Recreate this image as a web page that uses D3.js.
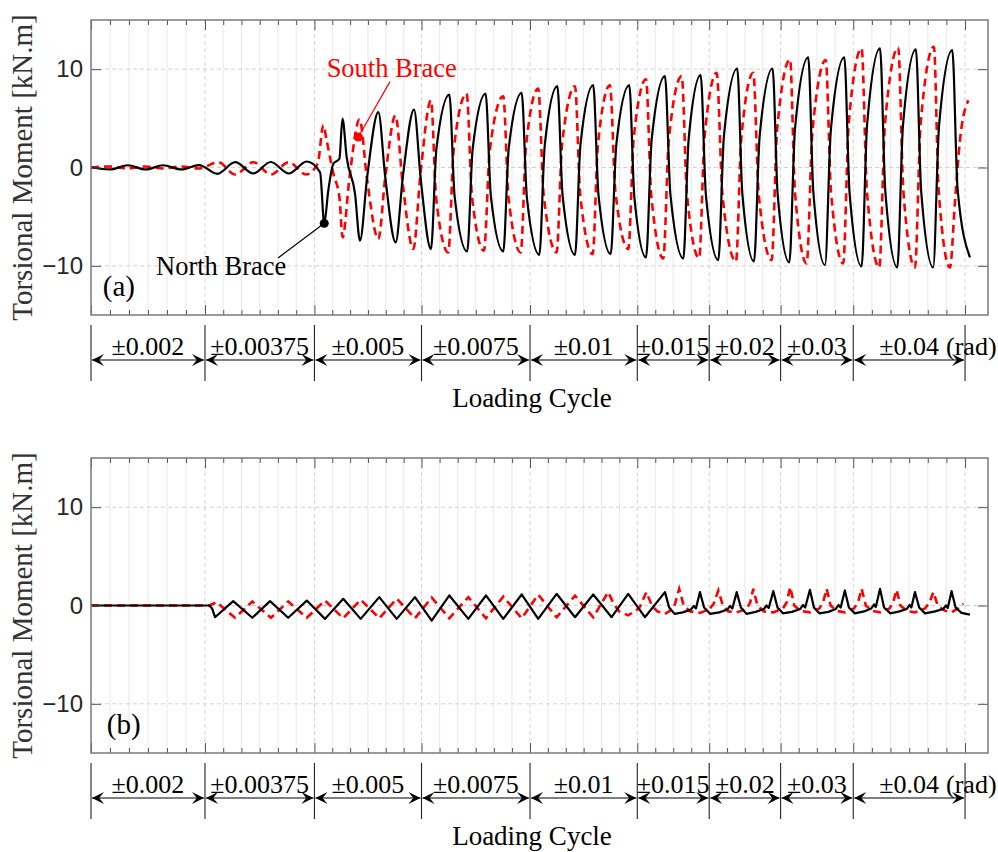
<!DOCTYPE html>
<html>
<head>
<meta charset="utf-8">
<script src="https://d3js.org/d3.v7.min.js"></script>
<style>
  body { margin: 0; background: #fff; }
  svg { display: block; }
  .ticklabel { font-family: "Liberation Sans", Arial, sans-serif; font-size: 24px; fill: #262626; }
  .serif { font-family: "Liberation Serif", "Times New Roman", serif; }
</style>
</head>
<body>
<svg id="chart" width="998" height="852"></svg>
<script>
// loading protocol sections, x in loading-cycle units
var sectionEdges = [0, 6.26, 12.27, 18.15, 24.11, 30, 33.95, 37.87, 41.86, 48];
var sectionSteps = [6, 6, 6, 6, 6, 4, 4, 4, 6];
var sectionLabels = ["\u00b10.002", "\u00b10.00375", "\u00b10.005", "\u00b10.0075", "\u00b10.01",
                     "\u00b10.015", "\u00b10.02", "\u00b10.03", "\u00b10.04"];
var yTicks = [-10, 0, 10];

// (a) north brace, [cycle, kN.m]
var northA = [[0,0],[1.04,-0.2],[2.02,0.23],[3.0,-0.2],[3.95,0.23],[4.98,-0.2],[5.93,0.25],
  [6.94,-0.64],[7.92,0.54],[8.91,-0.61],[9.87,0.56],[10.86,-0.61],[11.85,0.61],[12.58,-0.48],[12.81,-5.68],
  [13.03,-2.35],[13.31,0.38],[13.64,0.89],[13.81,4.97],[14.04,1.05],[14.5,-2.68],[14.77,-7.45],
  [15.17,-0.9],[15.78,5.64],[16.16,-0.99],[16.73,-7.62],[17.13,-0.87],[17.74,5.89],[18.11,-1.21],[18.67,-8.3],
  [18.97,1.92],[19.68,7.42],[19.97,-2.95],[20.66,-8.54],[20.96,1.9],[21.67,7.52],[21.96,-2.92],[22.64,-8.54],
  [22.94,1.94],[23.65,7.58],[23.94,-3.12],[24.62,-8.88],[24.92,2.27],[25.61,8.27],[25.9,-2.88],[26.58,-8.88],
  [26.88,2.33],[27.58,8.37],[27.87,-2.8],[28.54,-8.81],[28.85,2.36],[29.56,8.37],[29.84,-3.02],[30.48,-9.15],
  [30.79,2.84],[31.52,9.29],[31.82,-2.76],[32.53,-9.25],[32.82,2.87],[33.48,9.39],[33.77,-2.84],[34.45,-9.42],
  [34.76,3.25],[35.49,10.07],[35.77,-2.69],[36.41,-9.56],[36.72,3.2],[37.43,10.07],[37.71,-2.75],[38.35,-9.66],
  [38.66,3.89],[39.39,11.19],[39.67,-2.54],[40.31,-9.93],[40.63,3.8],[41.37,11.19],[41.66,-2.63],[42.32,-10.07],
  [42.62,4.35],[43.33,12.11],[43.62,-2.37],[44.28,-10.17],[44.59,4.25],[45.3,12.01],[45.59,-2.41],[46.25,-10.17],
  [46.57,4.2],[47.3,11.94],[47.59,-2.2],[48.27,-9.15]];

// (a) south brace
var southA = [[0,0],[1.04,0.1],[2.02,-0.1],[3.0,0.1],[3.95,-0.1],[4.98,0.1],[5.93,-0.1],
  [6.99,0.54],[7.92,-0.71],[8.91,0.54],[9.88,-0.71],[10.86,0.54],[11.81,-0.71],[12.45,0.4],[12.76,4.3],
  [12.94,2.76],[13.31,-0.64],[13.64,-3.0],[13.82,-7.1],[14.19,-1.1],[14.75,4.9],[15.16,-1.19],[15.78,-7.28],
  [16.16,-0.99],[16.72,5.3],[17.11,-1.5],[17.7,-8.3],[18.09,-0.73],[18.67,6.84],[18.96,-3.22],[19.62,-8.64],
  [19.92,1.86],[20.63,7.52],[20.92,-2.87],[21.58,-8.47],[21.9,1.74],[22.64,7.24],[22.93,-3.08],[23.6,-8.64],
  [23.89,2.2],[24.56,8.03],[24.86,-2.8],[25.57,-8.64],[25.87,2.35],[26.58,8.27],[26.87,-2.83],[27.55,-8.81],
  [27.84,2.36],[28.5,8.37],[28.8,-2.47],[29.51,-8.3],[29.8,2.93],[30.48,8.98],[30.77,-2.87],[31.43,-9.25],
  [31.73,2.8],[32.44,9.29],[32.73,-2.74],[33.4,-9.22],[33.69,3.03],[34.36,9.62],[34.68,-2.85],[35.42,-9.56],
  [35.71,2.91],[36.37,9.62],[36.67,-2.76],[37.38,-9.42],[37.68,3.85],[38.39,10.99],[38.66,-2.5],[39.3,-9.76],
  [39.62,3.68],[40.35,10.92],[40.64,-2.52],[41.31,-9.76],[41.61,4.46],[42.32,12.11],[42.61,-2.37],[43.29,-10.17],
  [43.6,4.38],[44.33,12.21],[44.61,-2.34],[45.25,-10.17],[45.56,4.42],[46.29,12.28],[46.55,-2.31],[47.17,-10.17],
  [47.45,-3.4],[47.72,2.76],[48.18,6.84]];

// (b) north brace
var northB = [[0,0],[6.5,0],[6.65,-0.3],[6.81,-1.19],[7.81,0.44],[8.86,-1.25],[9.83,0.44],[10.83,-1.25],
  [11.85,0.5],[12.85,-1.36],[13.85,0.68],[14.81,-1.36],[15.83,0.85],[16.79,-1.36],[17.79,0.85],[18.71,-1.53],
  [19.68,1.02],[20.72,-1.36],[21.69,1.02],[22.64,-1.36],[23.65,1.12],[24.56,-1.36],[25.57,1.19],[26.58,-1.19],
  [27.58,1.12],[28.59,-1.19],[29.5,1.19],[30.42,-1.19],[31.52,1.36],
  [31.75,-0.2],[32.05,-0.85],[32.5,-0.7],[32.95,-0.4],[33.1,-0.05],[33.22,-0.3],[33.44,1.36],
  [33.67,-0.2],[34.0,-0.85],[34.5,-0.7],[34.95,-0.4],[35.1,-0.05],[35.22,-0.3],[35.46,1.36],
  [35.69,-0.2],[36.0,-0.85],[36.5,-0.65],[36.95,-0.35],[37.1,0.0],[37.22,-0.25],[37.47,1.46],
  [37.7,-0.2],[38.0,-0.8],[38.5,-0.65],[38.95,-0.35],[39.1,0.05],[39.22,-0.2],[39.48,1.6],
  [39.7,-0.2],[40.0,-0.8],[40.5,-0.65],[40.9,-0.35],[41.05,0.05],[41.17,-0.2],[41.4,1.53],
  [41.62,-0.2],[41.95,-0.8],[42.45,-0.6],[42.85,-0.3],[43.0,0.1],[43.1,-0.15],[43.33,1.7],
  [43.55,-0.2],[43.9,-0.8],[44.4,-0.6],[44.8,-0.35],[44.95,0.05],[45.05,-0.2],[45.25,1.36],
  [45.48,-0.2],[45.8,-0.8],[46.35,-0.6],[46.8,-0.35],[46.95,0.0],[47.05,-0.25],[47.26,1.46],
  [47.48,-0.2],[47.8,-0.75],[48.27,-0.92]];

// (b) south brace
var southB = [[0,0],[6.5,0],[6.9,0.34],[7.91,-1.25],[8.86,0.4],[9.88,-1.25],[10.83,0.4],[11.85,-1.25],
  [12.85,0.5],[13.85,-1.3],[14.81,0.6],[15.83,-1.3],[16.79,0.7],[17.79,-1.3],[18.71,0.8],[19.68,-1.3],
  [20.72,0.85],[21.69,-1.3],[22.64,0.9],[23.65,-1.3],[24.56,1.1],[25.57,-1.2],[26.58,1.0],[27.58,-1.2],
  [28.4,1.36],[28.7,0.2],[29.0,-0.6],[29.5,-1.0],[30.1,-0.3],[30.5,1.36],[30.8,0.0],[31.1,-0.6],
  [31.52,-0.85],[32.0,-0.3],[32.3,1.7],[32.55,0.0],[32.9,-0.6],[33.44,-0.75],[33.95,-0.4],[34.2,0.2],
  [34.45,1.53],[34.7,0.0],[35.0,-0.6],[35.46,-0.7],[36.0,-0.35],[36.2,0.3],[36.37,1.7],[36.6,0.0],
  [36.95,-0.6],[37.47,-0.7],[38.0,-0.3],[38.2,0.3],[38.4,1.87],[38.62,0.0],[38.95,-0.55],[39.48,-0.7],
  [40.0,-0.3],[40.2,0.3],[40.4,1.7],[40.62,0.0],[40.95,-0.55],[41.4,-0.7],[41.9,-0.3],[42.12,0.3],
  [42.32,1.7],[42.55,0.0],[42.9,-0.55],[43.33,-0.7],[43.85,-0.3],[44.05,0.3],[44.24,1.6],[44.45,0.0],
  [44.8,-0.55],[45.25,-0.7],[45.8,-0.3],[46.05,0.3],[46.26,1.36],[46.5,0.0],[46.85,-0.5],[47.26,-0.7],
  [47.6,-0.3],[47.9,0.17]];

// markers and text annotations of panel (a), [cycle, kN.m]
var northMarker = [12.81, -5.68];
var southMarker = [14.68, 3.1];
var northText = [3.57, -10.94], northLineStart = [10.27, -9.2];
var southText = [12.94, 9.22], southLineStart = [16.42, 8.73];

var svg = d3.select("#chart");
var plotLeft = 91, plotRight = 988, plotH = 295;
var x = d3.scaleLinear().domain([0, 49.26]).range([plotLeft, plotRight]);

var minorGrid = [];
sectionEdges.slice(0, -1).forEach(function(e, i) {
  var next = sectionEdges[i + 1];
  for (var k = 1; k < sectionSteps[i]; k++) minorGrid.push(e + (next - e) * k / sectionSteps[i]);
});

function tidy(sel) {
  sel.select(".domain").remove();
  sel.selectAll(".tick line").attr("stroke", "#555").attr("stroke-width", 1);
}

function drawPanel(top, north, south, tag, curve) {
  var y = d3.scaleLinear().domain([-15, 15]).range([top + plotH, top]);
  var g = svg.append("g");

  g.selectAll(".minor").data(minorGrid).enter().append("line")
    .attr("x1", function(d) { return x(d); }).attr("x2", function(d) { return x(d); })
    .attr("y1", top).attr("y2", top + plotH)
    .attr("stroke", "#e9e9e9").attr("stroke-width", 1);
  g.selectAll(".major").data(sectionEdges.slice(1)).enter().append("line")
    .attr("x1", function(d) { return x(d); }).attr("x2", function(d) { return x(d); })
    .attr("y1", top).attr("y2", top + plotH)
    .attr("stroke", "#d2d2d2").attr("stroke-width", 1).attr("stroke-dasharray", "4,3");
  g.selectAll(".hgrid").data(yTicks).enter().append("line")
    .attr("x1", plotLeft).attr("x2", plotRight)
    .attr("y1", function(d) { return y(d); }).attr("y2", function(d) { return y(d); })
    .attr("stroke", "#d2d2d2").attr("stroke-width", 1).attr("stroke-dasharray", "4,3");

  var line = d3.line().x(function(d) { return x(d[0]); }).y(function(d) { return y(d[1]); })
    .curve(curve);
  g.append("path").datum(south).attr("d", line)
    .attr("fill", "none").attr("stroke", "#ff0000").attr("stroke-width", 2.6).attr("stroke-dasharray", "8,5");
  g.append("path").datum(north).attr("d", line)
    .attr("fill", "none").attr("stroke", "#000").attr("stroke-width", 2.2).attr("stroke-linejoin", "round");

  // ticks on all four sides, pointing inward
  g.append("g").attr("transform", "translate(0," + (top + plotH) + ")")
    .call(d3.axisBottom(x).tickValues(sectionEdges).tickSize(-10).tickFormat("")).call(tidy);
  g.append("g").attr("transform", "translate(0," + (top + plotH) + ")")
    .call(d3.axisBottom(x).tickValues(minorGrid).tickSize(-5).tickFormat("")).call(tidy);
  g.append("g").attr("transform", "translate(0," + top + ")")
    .call(d3.axisTop(x).tickValues(sectionEdges).tickSize(-10).tickFormat("")).call(tidy);
  g.append("g").attr("transform", "translate(0," + top + ")")
    .call(d3.axisTop(x).tickValues(minorGrid).tickSize(-5).tickFormat("")).call(tidy);
  var yl = g.append("g").attr("transform", "translate(" + plotLeft + ",0)")
    .call(d3.axisLeft(y).tickValues(yTicks).tickSize(-10).tickPadding(8)).call(tidy);
  yl.attr("font-size", null).attr("font-family", null);
  yl.selectAll("text").attr("class", "ticklabel").attr("fill", null);
  g.append("g").attr("transform", "translate(" + plotRight + ",0)")
    .call(d3.axisRight(y).tickValues(yTicks).tickSize(-10).tickFormat("")).call(tidy);

  g.append("rect").attr("x", plotLeft).attr("y", top)
    .attr("width", plotRight - plotLeft).attr("height", plotH)
    .attr("fill", "none").attr("stroke", "#7a7a7a").attr("stroke-width", 1.5);

  g.append("text").attr("class", "serif")
    .attr("transform", "translate(32," + (top + plotH / 2) + ") rotate(-90)")
    .attr("text-anchor", "middle").attr("font-size", 29).attr("fill", "#333")
    .text("Torsional Moment [kN.m]");

  g.append("text").attr("class", "serif")
    .attr("x", x(tag === "(a)" ? 0.65 : 0.87)).attr("y", y(-13.1))
    .attr("font-size", 29).attr("fill", "#000").text(tag);

  return y;
}

function drawBand(top) {
  var g = svg.append("g");
  g.selectAll(".sep").data(sectionEdges).enter().append("line")
    .attr("x1", function(d) { return x(d); }).attr("x2", function(d) { return x(d); })
    .attr("y1", top).attr("y2", top + 56)
    .attr("stroke", "#222").attr("stroke-width", 1.1);
  var ay = top + 35;
  var spans = sectionLabels.map(function(lab, i) { return { lab: lab, a: sectionEdges[i], b: sectionEdges[i + 1] }; });
  g.selectAll(".arr").data(spans).enter().append("line")
    .attr("x1", function(d) { return x(d.a) + 1; }).attr("x2", function(d) { return x(d.b) - 1; })
    .attr("y1", ay).attr("y2", ay).attr("stroke", "#000").attr("stroke-width", 1.2);
  function head(tip, dir) {
    var L = 12, w = 6;
    return "M" + tip + "," + ay + "L" + (tip - dir * L) + "," + (ay - w) +
      "L" + (tip - dir * L * 0.6) + "," + ay + "L" + (tip - dir * L) + "," + (ay + w) + "Z";
  }
  g.selectAll(".hl").data(spans).enter().append("path")
    .attr("d", function(d) { return head(x(d.a) + 1, -1); }).attr("fill", "#000");
  g.selectAll(".hr").data(spans).enter().append("path")
    .attr("d", function(d) { return head(x(d.b) - 1, 1); }).attr("fill", "#000");
  g.selectAll(".lab").data(spans).enter().append("text").attr("class", "serif")
    .attr("x", function(d) { return (x(d.a) + x(d.b)) / 2; }).attr("y", top + 30)
    .attr("text-anchor", "middle").attr("font-size", 26).attr("fill", "#000")
    .text(function(d) { return d.lab; });
  g.append("text").attr("class", "serif")
    .attr("x", x(48) - 19).attr("y", top + 30).attr("font-size", 26).attr("fill", "#000").text("(rad)");
  g.append("text").attr("class", "serif")
    .attr("x", 532).attr("y", top + 82).attr("text-anchor", "middle")
    .attr("font-size", 27).attr("fill", "#000").text("Loading Cycle");
}

var yA = drawPanel(20, northA, southA, "(a)", d3.curveMonotoneX);
drawBand(325);
drawPanel(458, northB, southB, "(b)", d3.curveLinear);
drawBand(763);

// annotations of panel (a)
svg.append("line").attr("x1", x(northLineStart[0])).attr("y1", yA(northLineStart[1]))
  .attr("x2", x(northMarker[0])).attr("y2", yA(northMarker[1])).attr("stroke", "#000").attr("stroke-width", 1.2);
svg.append("circle").attr("cx", x(northMarker[0])).attr("cy", yA(northMarker[1])).attr("r", 4.5).attr("fill", "#000");
svg.append("text").attr("class", "serif").attr("x", x(northText[0])).attr("y", yA(northText[1]))
  .attr("font-size", 26.5).attr("fill", "#000").text("North Brace");

svg.append("line").attr("x1", x(southLineStart[0])).attr("y1", yA(southLineStart[1]))
  .attr("x2", x(southMarker[0])).attr("y2", yA(southMarker[1])).attr("stroke", "#ff0000").attr("stroke-width", 1.2);
svg.append("circle").attr("cx", x(southMarker[0])).attr("cy", yA(southMarker[1])).attr("r", 4.5).attr("fill", "#ff0000");
svg.append("text").attr("class", "serif").attr("x", x(southText[0])).attr("y", yA(southText[1]))
  .attr("font-size", 26.5).attr("fill", "#ff0000").text("South Brace");
</script>
</body>
</html>
